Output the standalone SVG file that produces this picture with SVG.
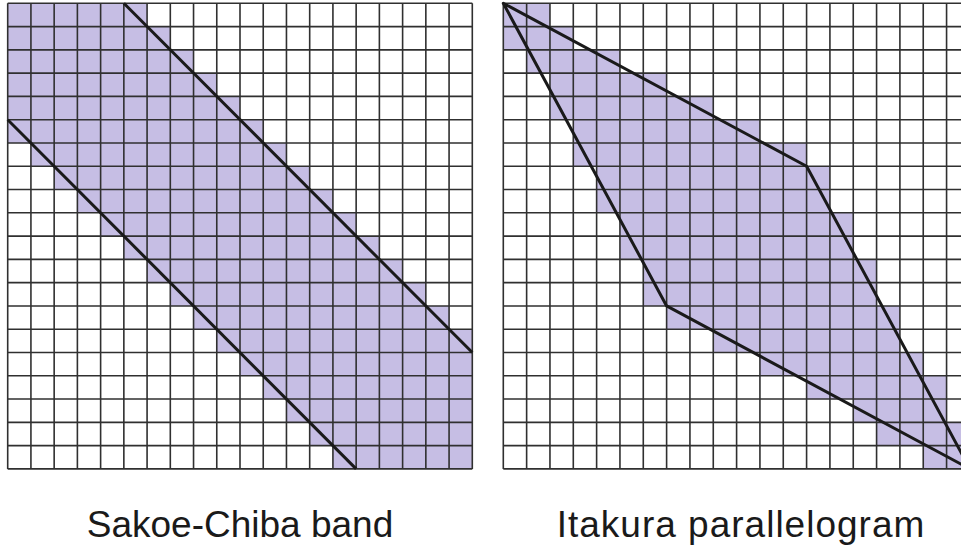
<svg xmlns="http://www.w3.org/2000/svg" width="961" height="547" viewBox="0 0 961 547">
<style>
.sh{fill:#c6bee4;stroke:none}
.grid{fill:none;stroke:#303030;stroke-width:1.6}
.bound{fill:none;stroke:#1a1a1a;stroke-width:3;stroke-linejoin:round;vector-effect:non-scaling-stroke}
.lbl{font-family:"Liberation Sans",Arial,sans-serif;font-size:37px;fill:#1a1a1a;text-anchor:middle}
</style>
<defs>
<path id="gridlines" vector-effect="non-scaling-stroke" d="M0 0H20M0 1H20M0 2H20M0 3H20M0 4H20M0 5H20M0 6H20M0 7H20M0 8H20M0 9H20M0 10H20M0 11H20M0 12H20M0 13H20M0 14H20M0 15H20M0 16H20M0 17H20M0 18H20M0 19H20M0 20H20M0 0V20M1 0V20M2 0V20M3 0V20M4 0V20M5 0V20M6 0V20M7 0V20M8 0V20M9 0V20M10 0V20M11 0V20M12 0V20M13 0V20M14 0V20M15 0V20M16 0V20M17 0V20M18 0V20M19 0V20M20 0V20"/>
</defs>
<rect width="961" height="547" fill="#ffffff"/>
<g id="sakoe-chiba" transform="translate(7.7 3.3) scale(23.23 23.28)">
<g id="sakoe-shading">
<rect class="sh" x="0" y="0" width="6" height="1"/>
<rect class="sh" x="0" y="1" width="7" height="1"/>
<rect class="sh" x="0" y="2" width="8" height="1"/>
<rect class="sh" x="0" y="3" width="9" height="1"/>
<rect class="sh" x="0" y="4" width="10" height="1"/>
<rect class="sh" x="0" y="5" width="11" height="1"/>
<rect class="sh" x="1" y="6" width="11" height="1"/>
<rect class="sh" x="2" y="7" width="11" height="1"/>
<rect class="sh" x="3" y="8" width="11" height="1"/>
<rect class="sh" x="4" y="9" width="11" height="1"/>
<rect class="sh" x="5" y="10" width="11" height="1"/>
<rect class="sh" x="6" y="11" width="11" height="1"/>
<rect class="sh" x="7" y="12" width="11" height="1"/>
<rect class="sh" x="8" y="13" width="11" height="1"/>
<rect class="sh" x="9" y="14" width="11" height="1"/>
<rect class="sh" x="10" y="15" width="10" height="1"/>
<rect class="sh" x="11" y="16" width="9" height="1"/>
<rect class="sh" x="12" y="17" width="8" height="1"/>
<rect class="sh" x="13" y="18" width="7" height="1"/>
<rect class="sh" x="14" y="19" width="6" height="1"/>
</g>
<use href="#gridlines" class="grid"/>
<g id="sakoe-lines">
<line class="bound" x1="5" y1="0" x2="20" y2="15"/>
<line class="bound" x1="0" y1="5" x2="15" y2="20"/>
</g>
</g>
<g id="itakura" transform="translate(503.3 3.3) scale(23.33 23.28)">
<g id="itakura-shading">
<rect class="sh" x="0" y="0" width="2" height="1"/>
<rect class="sh" x="0" y="1" width="3" height="1"/>
<rect class="sh" x="1" y="2" width="4" height="1"/>
<rect class="sh" x="2" y="3" width="5" height="1"/>
<rect class="sh" x="2" y="4" width="7" height="1"/>
<rect class="sh" x="3" y="5" width="8" height="1"/>
<rect class="sh" x="3" y="6" width="10" height="1"/>
<rect class="sh" x="4" y="7" width="10" height="1"/>
<rect class="sh" x="4" y="8" width="10" height="1"/>
<rect class="sh" x="5" y="9" width="10" height="1"/>
<rect class="sh" x="5" y="10" width="10" height="1"/>
<rect class="sh" x="6" y="11" width="10" height="1"/>
<rect class="sh" x="6" y="12" width="10" height="1"/>
<rect class="sh" x="7" y="13" width="10" height="1"/>
<rect class="sh" x="9" y="14" width="8" height="1"/>
<rect class="sh" x="11" y="15" width="7" height="1"/>
<rect class="sh" x="13" y="16" width="6" height="1"/>
<rect class="sh" x="15" y="17" width="4" height="1"/>
<rect class="sh" x="16" y="18" width="4" height="1"/>
<rect class="sh" x="18" y="19" width="2" height="1"/>
</g>
<use href="#gridlines" class="grid"/>
<polygon id="itakura-lines" class="bound" points="0,0 13,7 20,20 7,13"/>
</g>
<g id="labels">
<text class="lbl" x="240" y="537">Sakoe-Chiba band</text>
<text class="lbl" x="741" y="537" letter-spacing="1">Itakura parallelogram</text>
</g>
</svg>
